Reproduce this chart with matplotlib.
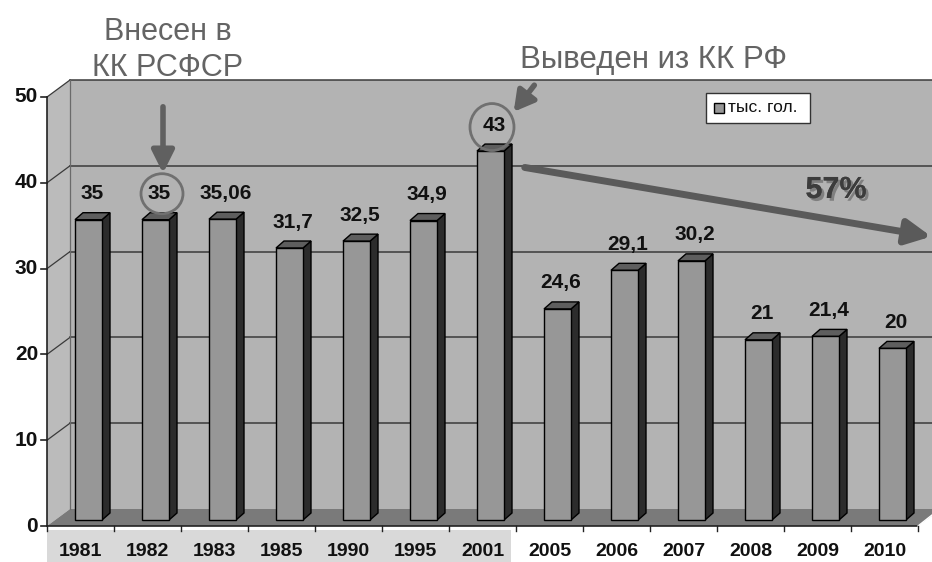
import matplotlib.pyplot as plt
from matplotlib.patches import Polygon, Rectangle, Ellipse, FancyArrowPatch
import matplotlib.patheffects as pe

plt.rcParams['font.family'] = ['Liberation Sans', 'DejaVu Sans']

# ---- data ----
years = ['1981', '1982', '1983', '1985', '1990', '1995', '2001',
         '2005', '2006', '2007', '2008', '2009', '2010']
values = [35, 35, 35.06, 31.7, 32.5, 34.9, 43, 24.6, 29.1, 30.2, 21, 21.4, 20]
value_labels = ['35', '35', '35,06', '31,7', '32,5', '34,9', '43',
                '24,6', '29,1', '30,2', '21', '21,4', '20']
y_ticks = [0, 10, 20, 30, 40, 50]
legend_label = 'тыс. гол.'
note_in = 'Внесен в\nКК РСФСР'
note_out = 'Выведен из КК РФ'
drop_label = '57%'

# ---- pixel <-> data scale (pseudo 3D like excel) ----
PX_X = 67.0      # pixels per category
PX_Y = 8.58      # pixels per value unit
X0, Y0 = 47, 526  # front origin in pixels
W, H = 932, 562

DX, DY = 23 / PX_X, 17 / PX_Y          # wall depth
BSX, BSY = 8 / PX_X, 6 / PX_Y          # bar front shift
BDX, BDY = 8 / PX_X, 7 / PX_Y          # bar depth
BW = 27 / PX_X                         # bar width
LBX, LBY = 11.5 / PX_X, 26 / PX_Y      # value label offset


def px(x, y):
    return (x - X0) / PX_X, (Y0 - y) / PX_Y


def label_pos(i):
    return i + 0.5 + LBX, values[i] + BSY + LBY


fig = plt.figure(figsize=(W / 100, H / 100), dpi=100)
ax = fig.add_axes([0, 0, 1, 1])
ax.set_xlim(-X0 / PX_X, (W - X0) / PX_X)
ax.set_ylim((Y0 - H) / PX_Y, Y0 / PX_Y)
ax.axis('off')

n = len(years)
xmax = (W - X0) / PX_X + 0.2
grid_c = '#3a3a3a'

# walls
ax.add_patch(Rectangle((DX, DY), xmax - DX, 50, fc='#b3b3b3', ec='none', zorder=0))
ax.add_patch(Polygon([(0, 0), (DX, DY), (DX, 50 + DY), (0, 50)],
                     fc='#bbbbbb', ec='none', zorder=0))
ax.add_patch(Polygon([(0, 0), (n, 0), (n + DX, DY), (DX, DY)],
                     fc='#7a7a7a', ec='none', zorder=1))
for v in y_ticks[1:]:
    ax.plot([DX, xmax], [v + DY, v + DY], color=grid_c, lw=1.1, zorder=1)
    ax.plot([0, DX], [v, v + DY], color=grid_c, lw=0.9, zorder=1)
ax.plot([DX, DX], [DY, 50 + DY], color='#6a6a6a', lw=0.9, zorder=1)

# label band under first categories
band_top = px(0, 530)[1]
ax.add_patch(Rectangle((0, ax.get_ylim()[0]), 6.93, band_top - ax.get_ylim()[0],
                       fc='#d9d9d9', ec='none', zorder=0))

# axes lines and ticks
ax.plot([0, 0], [0, 50], color='#222222', lw=1.2, zorder=2)
ax.plot([0, n], [0, 0], color='#222222', lw=1.2, zorder=2)
ax.plot([n, n + 14 / PX_X], [0, 11 / PX_Y], color='#ffffff', lw=1.0, zorder=2)
tick_x = 6 / PX_X
tick_y = 5 / PX_Y
for v in y_ticks:
    ax.plot([-tick_x, 0], [v, v], color='#222222', lw=1.2, zorder=2)
    ax.text(-9 / PX_X, v, str(v), ha='right', va='center',
            fontsize=15, fontweight='bold', color='#111111')
for i in range(n + 1):
    ax.plot([i, i], [0, -tick_y], color='#222222', lw=1.0, zorder=2)

# bars
for i, v in enumerate(values):
    xl = i + 0.5 - BW / 2 + BSX
    xr = xl + BW
    b0 = BSY
    top = b0 + v
    ax.add_patch(Polygon([(xr, b0), (xr + BDX, b0 + BDY), (xr + BDX, top + BDY), (xr, top)],
                         fc='#2c2c2c', ec='#000000', lw=1, zorder=3))
    ax.add_patch(Polygon([(xl, top), (xr, top), (xr + BDX, top + BDY), (xl + BDX, top + BDY)],
                         fc='#5e5e5e', ec='#000000', lw=1, zorder=3))
    ax.add_patch(Rectangle((xl, b0), BW, v, fc='#979797', ec='#000000', lw=1, zorder=3))
    ax.text(*label_pos(i), value_labels[i], ha='center',
            va='center', fontsize=15, fontweight='bold', color='#111111', zorder=4)
    ax.text(i + 0.5, px(0, 552)[1], years[i], ha='center', va='center',
            fontsize=14, fontweight='bold', color='#111111', zorder=4)

# legend box
lx0, ly0 = px(706, 123)
lx1, ly1 = px(810, 93)
ax.add_patch(Rectangle((lx0, ly0), lx1 - lx0, ly1 - ly0, fc='white', ec='#333333',
                       lw=1, zorder=4))
sx, sy = px(714, 113)
ax.add_patch(Rectangle((sx, sy), 10 / PX_X, 10 / PX_Y, fc='#979797', ec='#000000',
                       lw=1, zorder=5))
ax.text(px(728, 0)[0], (ly0 + ly1) / 2, legend_label, ha='left', va='center',
        fontsize=12.5, color='#111111', zorder=5)

# annotations
note_c = '#646464'
ax.text(*px(168, 50), note_in, ha='center', va='center', fontsize=22,
        color=note_c, linespacing=1.3, zorder=5)
ax.text(*px(654, 60), note_out, ha='center', va='center', fontsize=22.5,
        color=note_c, zorder=5)

lx, ly = label_pos(1)
ax.add_patch(Ellipse((lx + 3 / PX_X, ly), 42 / PX_X, 40 / PX_Y, fc='none',
                     ec='#707070', lw=2, zorder=5))
lx, ly = label_pos(6)
ax.add_patch(Ellipse((lx - 2 / PX_X, ly - 2 / PX_Y), 44 / PX_X, 47 / PX_Y, fc='none',
                     ec='#707070', lw=2, zorder=5))

ax.add_patch(FancyArrowPatch(px(163, 104), px(163, 176),
                             arrowstyle='-|>,head_length=0.9,head_width=0.45',
                             mutation_scale=15, lw=4, color='#606060', zorder=5))
ax.add_patch(FancyArrowPatch(px(536, 83), px(512, 114),
                             arrowstyle='-|>,head_length=0.8,head_width=0.45',
                             mutation_scale=15, lw=4, color='#606060', zorder=5))
ax.add_patch(FancyArrowPatch(px(522, 167), px(934, 237),
                             arrowstyle='-|>,head_length=1.0,head_width=0.5',
                             mutation_scale=15, lw=5, color='#5a5a5a', zorder=5))

ax.text(*px(836, 190), drop_label, ha='center', va='center', fontsize=22,
        fontweight='bold', color='#3c3c3c', zorder=6,
        path_effects=[pe.withSimplePatchShadow(offset=(2, -2), shadow_rgbFace='#7a7a7a',
                                               alpha=0.9), pe.Normal()])

fig.savefig('out.png', dpi=100)
